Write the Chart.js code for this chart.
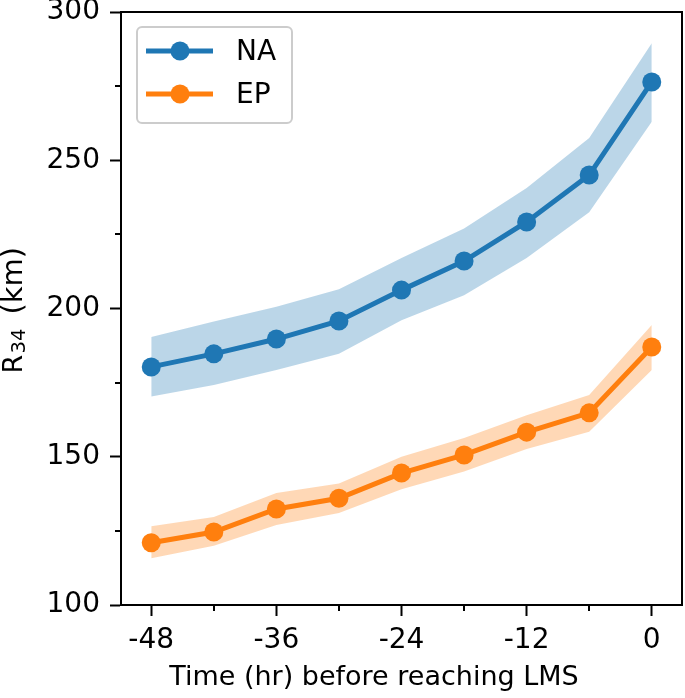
<!DOCTYPE html>
<html>
<head>
<meta charset="utf-8">
<script src="https://cdn.jsdelivr.net/npm/chart.js@4/dist/chart.umd.min.js"></script>
<style>
  html, body { margin: 0; padding: 0; background: #fff; }
  #wrap { width: 685px; height: 698px; }
</style>
</head>
<body>
<div id="wrap"><canvas id="chart" width="685" height="698"></canvas></div>
<script>
// --- data ---
const hours = [-48, -42, -36, -30, -24, -18, -12, -6, 0];
const naMean = [180.3, 184.7, 189.7, 195.8, 206.2, 216.0, 229.2, 245.0, 276.4];
const naUpper = [190.4, 195.6, 200.6, 206.5, 217.0, 227.0, 240.6, 257.5, 289.5];
const naLower = [170.3, 174.2, 179.3, 184.7, 196.0, 204.5, 217.0, 232.5, 263.0];
const epMean = [121.0, 124.6, 132.4, 136.0, 144.5, 150.6, 158.3, 164.8, 187.0];
const epUpper = [126.6, 129.7, 137.8, 141.0, 150.0, 156.3, 164.0, 170.8, 194.4];
const epLower = [115.8, 120.0, 127.0, 131.0, 139.0, 145.0, 152.6, 158.4, 179.3];
const xTicks = [-48, -42, -36, -30, -24, -18, -12, -6, 0];
const yTicks = [100, 125, 150, 175, 200, 225, 250, 275, 300];

const BLUE = '#1f77b4';
const ORANGE = '#ff7f0e';
const FONT = "'DejaVu Sans', sans-serif";

function pts(ys) {
    return hours.map((h, i) => ({ x: h, y: ys[i] }));
}

function lineSet(label, ys, color) {
    return {
        label: label,
        data: pts(ys),
        borderColor: color,
        backgroundColor: color,
        borderWidth: 5,
        pointRadius: 9.5,
        pointHoverRadius: 9.5,
        pointBorderWidth: 0,
        fill: false,
        tension: 0,
        order: 0
    };
}

function bandSet(ys, color, fill) {
    return {
        label: '',
        data: pts(ys),
        borderWidth: 0,
        borderColor: 'rgba(0,0,0,0)',
        backgroundColor: color,
        pointRadius: 0,
        fill: fill,
        tension: 0,
        order: 2
    };
}

// --- frame: top and right spines ---
const framePlugin = {
    id: 'frame',
    afterDraw(chart) {
        const a = chart.chartArea;
        const c = chart.ctx;
        c.save();
        c.strokeStyle = '#000';
        c.lineWidth = 2;
        c.strokeRect(a.left, a.top, a.right - a.left, a.bottom - a.top);
        c.restore();
    }
};

// --- short minor ticks ---
const minorTickPlugin = {
    id: 'minorTicks',
    afterDraw(chart) {
        const c = chart.ctx;
        const xs = chart.scales.x;
        const ys = chart.scales.y;
        c.save();
        c.strokeStyle = '#000';
        c.lineWidth = 2;
        xTicks.forEach(v => {
            if (v % 12 === 0) return;
            const px = Math.round(xs.getPixelForValue(v));
            c.beginPath();
            c.moveTo(px, chart.chartArea.bottom);
            c.lineTo(px, chart.chartArea.bottom + 6);
            c.stroke();
        });
        yTicks.forEach(v => {
            if (v % 50 === 0) return;
            const py = Math.round(ys.getPixelForValue(v));
            c.beginPath();
            c.moveTo(chart.chartArea.left, py);
            c.lineTo(chart.chartArea.left - 6, py);
            c.stroke();
        });
        c.restore();
    }
};

// --- axis titles (y one needs a real subscript) ---
const titlePlugin = {
    id: 'axisTitles',
    afterDraw(chart) {
        const c = chart.ctx;
        const a = chart.chartArea;
        c.save();
        c.fillStyle = '#000';
        c.textBaseline = 'alphabetic';

        // x title, sits a bit left of the axes centre like the figure
        c.font = '27px ' + FONT;
        c.textAlign = 'center';
        c.fillText('Time (hr) before reaching LMS', a.left + 253, 685);

        // y title: R, subscript 34, (km)
        c.textAlign = 'left';
        c.translate(21.5, (a.top + a.bottom) / 2);
        c.rotate(-Math.PI / 2);
        c.font = '27px ' + FONT;
        c.fillText('R', -65, 0);
        c.font = '19.6px ' + FONT;
        c.fillText('34', -45, 3.5);
        c.font = '29px ' + FONT;
        c.fillText('(km)', -6, 0);
        c.restore();
    }
};

// --- matplotlib style legend box ---
const legendPlugin = {
    id: 'mplLegend',
    afterDraw(chart) {
        const c = chart.ctx;
        const a = chart.chartArea;
        const entries = chart.data.datasets.filter(d => d.label);
        const x0 = a.left + 16, y0 = a.top + 15, w = 155, h = 96;
        c.save();
        c.fillStyle = 'rgba(255,255,255,0.8)';
        c.strokeStyle = '#cccccc';
        c.lineWidth = 2;
        c.beginPath();
        c.roundRect(x0, y0, w, h, 5);
        c.fill();
        c.stroke();
        entries.forEach((d, i) => {
            const cy = y0 + 24 + i * 43;
            c.strokeStyle = d.borderColor;
            c.lineWidth = 5;
            c.beginPath();
            c.moveTo(x0 + 9, cy);
            c.lineTo(x0 + 76, cy);
            c.stroke();
            c.fillStyle = d.borderColor;
            c.beginPath();
            c.arc(x0 + 43, cy, 9.5, 0, Math.PI * 2);
            c.fill();
            c.fillStyle = '#000';
            c.font = '28px ' + FONT;
            c.textBaseline = 'middle';
            c.fillText(d.label, x0 + 99, cy + 2);
        });
        c.restore();
    }
};

new Chart(document.getElementById('chart'), {
    type: 'line',
    data: {
        datasets: [
            lineSet('NA', naMean, BLUE),
            lineSet('EP', epMean, ORANGE),
            bandSet(naUpper, 'rgba(31,119,180,0.3)', '+1'),
            bandSet(naLower, 'rgba(31,119,180,0.3)', false),
            bandSet(epUpper, 'rgba(255,127,14,0.3)', '+1'),
            bandSet(epLower, 'rgba(255,127,14,0.3)', false)
        ]
    },
    options: {
        responsive: false,
        animation: false,
        layout: { autoPadding: false, padding: { top: 12, right: 3, left: 0, bottom: 0 } },
        plugins: {
            legend: { display: false },
            tooltip: { enabled: false }
        },
        scales: {
            x: {
                type: 'linear',
                min: -50.9,
                max: 2.9,
                afterBuildTicks: s => { s.ticks = xTicks.map(v => ({ value: v })); },
                afterFit: s => { s.height = 93; s.paddingLeft = 0; s.paddingRight = 0; },
                ticks: {
                    color: '#000',
                    font: { family: FONT, size: 28 },
                    padding: 8,
                    maxRotation: 0,
                    autoSkip: false,
                    callback: v => (v % 12 === 0 ? String(v) : '')
                },
                grid: {
                    drawOnChartArea: false,
                    tickLength: 11,
                    tickWidth: 2,
                    tickColor: ctx => (ctx.tick && ctx.tick.value % 12 === 0 ? '#000' : 'rgba(0,0,0,0)')
                },
                border: { display: true, color: '#000', width: 2 }
            },
            y: {
                min: 100,
                max: 300,
                afterBuildTicks: s => { s.ticks = yTicks.map(v => ({ value: v })); },
                afterFit: s => { s.width = 121; s.paddingTop = 0; s.paddingBottom = 0; },
                ticks: {
                    color: '#000',
                    font: { family: FONT, size: 28 },
                    padding: 10,
                    autoSkip: false,
                    callback: v => (v % 50 === 0 ? String(v) : '')
                },
                grid: {
                    drawOnChartArea: false,
                    tickLength: 11,
                    tickWidth: 2,
                    tickColor: ctx => (ctx.tick && ctx.tick.value % 50 === 0 ? '#000' : 'rgba(0,0,0,0)')
                },
                border: { display: true, color: '#000', width: 2 }
            }
        }
    },
    plugins: [framePlugin, minorTickPlugin, titlePlugin, legendPlugin]
});
</script>
</body>
</html>
